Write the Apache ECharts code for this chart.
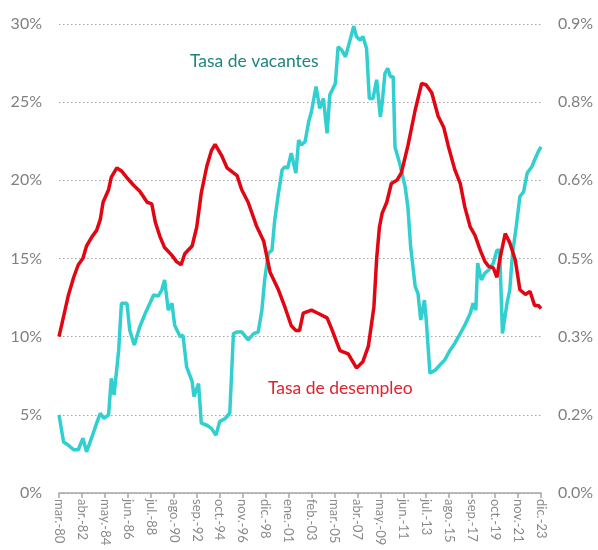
<!DOCTYPE html>
<html>
<head>
<meta charset="utf-8">
<script src="https://cdn.jsdelivr.net/npm/echarts@6/dist/echarts.min.js"></script>
<style>
html,body{margin:0;padding:0;background:#fff;}
#chart{width:598px;height:550px;}
</style>
</head>
<body>
<div id="chart"></div>
<script>
// meses: mar.-80 .. dic.-23
var mesesNombre = ['ene.','feb.','mar.','abr.','may.','jun.','jul.','ago.','sep.','oct.','nov.','dic.'];
var meses = [];
for(var y=1980; y<=2023; y++){
	for(var m=0; m<12; m++){
		if(y==1980 && m<2) continue;
		meses.push(mesesNombre[m] + '-' + String(y).slice(2));
	}
}

// Tasa de desempleo (%), eje izquierdo: indice de mes / valor
var desempleoMes = [0,5,10,16,21,26,30,36,41,45,48,54,57,63,68,75,81,88,96,101,105,110,115,123,128,133,137,145,150,155,161,166,170,177,183,194,199,206,215,223,230,239,246,253,258,262,266,275,282,292,297,306,315,324,331,337,343,346,349,352,357,362,368,373,380,388,395,400,406,413,419,424,431,437,442,448,453,459,464,468,473,477,480,486,491,497,502,508,513,518,522,525];
var desempleoVal = [10.0,11.3,12.6,13.8,14.6,15.0,15.8,16.4,16.8,17.5,18.6,19.4,20.2,20.8,20.6,20.1,19.7,19.3,18.6,18.5,17.3,16.4,15.7,15.2,14.8,14.6,15.3,15.8,17.0,19.2,20.9,21.9,22.3,21.6,20.8,20.3,19.4,18.6,17.1,16.1,14.1,13.0,11.9,10.7,10.4,10.4,11.5,11.7,11.5,11.2,10.5,9.1,8.9,8.0,8.4,9.4,11.9,15.0,17.0,17.9,18.6,19.8,20.0,20.5,22.2,24.5,26.2,26.1,25.6,24.1,23.4,22.2,20.7,19.8,18.3,17.0,16.5,15.5,14.8,14.5,14.4,13.8,14.9,16.6,16.0,14.9,13.0,12.7,12.9,12.0,12.0,11.8];

// Tasa de vacantes (%), eje derecho
var vacantesMes = [0,5,10,16,21,26,30,36,41,45,49,54,57,60,65,68,74,77,82,88,94,99,103,108,112,115,119,123,126,132,135,139,145,147,152,155,161,166,171,175,181,186,190,194,199,206,212,217,221,224,228,232,235,239,243,246,249,253,255,258,261,264,268,272,275,280,284,288,292,295,301,304,308,312,317,321,324,328,331,335,338,342,346,350,352,355,358,361,364,366,371,377,380,383,388,391,394,398,400,404,410,415,420,426,431,437,442,448,451,454,456,460,464,468,473,477,480,483,488,491,494,498,502,506,510,515,518,522,525];
var vacantesVal = [0.150,0.098,0.092,0.083,0.083,0.105,0.079,0.108,0.134,0.153,0.143,0.150,0.220,0.188,0.274,0.364,0.364,0.313,0.284,0.319,0.345,0.364,0.380,0.378,0.390,0.409,0.351,0.364,0.322,0.300,0.303,0.242,0.214,0.185,0.210,0.134,0.130,0.124,0.111,0.137,0.143,0.153,0.306,0.309,0.309,0.294,0.306,0.309,0.351,0.409,0.460,0.466,0.524,0.575,0.620,0.626,0.623,0.652,0.655,0.614,0.677,0.668,0.674,0.713,0.732,0.780,0.738,0.757,0.690,0.764,0.786,0.856,0.850,0.837,0.869,0.896,0.876,0.869,0.876,0.853,0.757,0.757,0.793,0.722,0.748,0.805,0.815,0.799,0.799,0.664,0.633,0.588,0.549,0.473,0.396,0.383,0.332,0.370,0.332,0.230,0.236,0.246,0.255,0.274,0.287,0.306,0.322,0.345,0.364,0.351,0.441,0.409,0.422,0.428,0.441,0.466,0.466,0.306,0.364,0.390,0.460,0.511,0.569,0.578,0.614,0.626,0.639,0.655,0.664];

var etiquetasDer = ['0.0%','0.2%','0.3%','0.5%','0.6%','0.8%','0.9%'];

function pares(xs, vs){
	return xs.map(function(x, i){ return [x, vs[i]]; });
}

var myCharts = echarts.init(document.getElementById('chart'));
var fuente = 'Lato, "Open Sans", sans-serif';
var option = {
	animation: false,
	grid: {
		left: 59,
		right: 57,
		top: 24,
		bottom: 57,
		containLabel: false
	},
	xAxis: {
		type: 'category',
		boundaryGap: false,
		data: meses,
		axisLine: {
			show: true,
			lineStyle: {color: '#A6A6A6', width: 1.5}
		},
		axisTick: {
			show: true,
			interval: 24,
			length: 5,
			lineStyle: {color: '#A6A6A6', width: 1.5}
		},
		axisLabel: {
			interval: 24,
			rotate: -90,
			margin: 6,
			color: '#8A8A8A',
			fontSize: 13,
			fontFamily: fuente
		},
		splitLine: {show: false}
	},
	yAxis: [
	{
		type: 'value',
		min: 0,
		max: 30,
		interval: 5,
		axisLine: {show: false},
		axisTick: {show: false},
		axisLabel: {
			formatter: '{value}%',
			margin: 17,
			color: '#808080',
			fontSize: 16,
			fontFamily: fuente
		},
		splitLine: {
			show: true,
			lineStyle: {color: '#A6A6A6', type: [1.5, 2.5], width: 1.2}
		}
	},{
		type: 'value',
		min: 0,
		max: 0.9,
		interval: 0.15,
		axisLine: {show: false},
		axisTick: {show: false},
		axisLabel: {
			formatter: function(v){
				return etiquetasDer[Math.round(v / 0.15)];
			},
			margin: 17,
			color: '#808080',
			fontSize: 16,
			fontFamily: fuente
		},
		splitLine: {show: false}
	}
	],
	series: [
	{
		name: 'Tasa de desempleo',
		type: 'line',
		yAxisIndex: 0,
		showSymbol: false,
		symbol: 'none',
		lineStyle: {color: '#E20613', width: 3.5},
		itemStyle: {color: '#E20613'},
		data: pares(desempleoMes, desempleoVal),
		z: 3
	},
	{
		name: 'Tasa de vacantes',
		type: 'line',
		yAxisIndex: 1,
		showSymbol: false,
		symbol: 'none',
		lineStyle: {color: '#31CFCF', width: 3.5},
		itemStyle: {color: '#31CFCF'},
		data: pares(vacantesMes, vacantesVal),
		z: 2
	}
	],
	graphic: [
	{
		type: 'text',
		left: 190,
		top: 52,
		style: {
			text: 'Tasa de vacantes',
			fill: '#1E857E',
			fontSize: 17.5,
			fontFamily: fuente
		}
	},{
		type: 'text',
		left: 268,
		top: 379,
		style: {
			text: 'Tasa de desempleo',
			fill: '#E3212B',
			fontSize: 17.5,
			fontFamily: fuente
		}
	}
	]
};
myCharts.setOption(option);
</script>
</body>
</html>
